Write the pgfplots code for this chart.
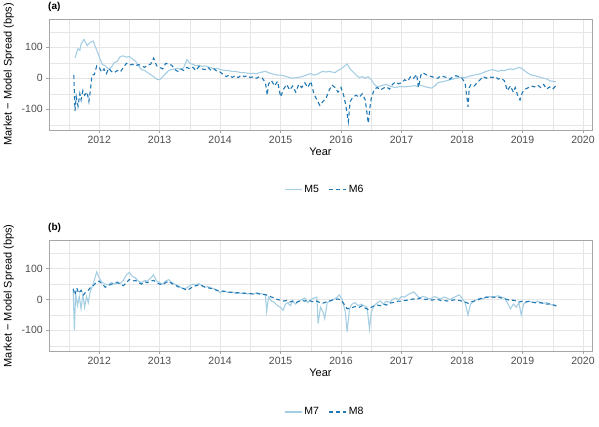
\documentclass[border=0pt]{standalone}
\usepackage{fontspec}
\setmainfont{Liberation Sans}
\usepackage{pgfplots}
\pgfplotsset{compat=1.18}
\definecolor{lightb}{HTML}{A6CEE3}
\definecolor{darkb}{HTML}{1F78B4}
\definecolor{gridc}{HTML}{E6E6E6}
\definecolor{borderc}{HTML}{A6A6A6}
\definecolor{tickc}{HTML}{4D4D4D}

\pgfplotstableread{
x y
2011.60 65
2011.63 85
2011.65 95
2011.68 90
2011.70 110
2011.75 125
2011.80 105
2011.85 115
2011.90 120
2011.95 95
2012.00 70
2012.05 45
2012.10 40
2012.15 30
2012.20 35
2012.25 50
2012.30 55
2012.35 70
2012.40 72
2012.45 68
2012.50 70
2012.55 62
2012.60 55
2012.65 40
2012.70 28
2012.75 25
2012.80 18
2012.85 12
2012.90 5
2012.95 -3
2013.00 -5
2013.05 5
2013.10 15
2013.15 25
2013.20 28
2013.25 30
2013.30 32
2013.35 28
2013.40 35
2013.45 60
2013.50 48
2013.55 45
2013.60 40
2013.65 42
2013.70 38
2013.75 40
2013.80 36
2013.85 34
2013.90 30
2013.95 32
2014.00 28
2014.05 26
2014.10 25
2014.15 24
2014.20 22
2014.25 22
2014.30 20
2014.35 18
2014.40 18
2014.45 16
2014.50 15
2014.55 16
2014.60 14
2014.65 18
2014.70 20
2014.75 22
2014.80 18
2014.85 15
2014.90 12
2014.95 10
2015.00 10
2015.05 8
2015.10 5
2015.15 2
2015.20 0
2015.25 2
2015.30 3
2015.35 5
2015.40 8
2015.45 12
2015.50 15
2015.55 10
2015.60 12
2015.65 18
2015.70 22
2015.75 20
2015.80 22
2015.85 20
2015.90 18
2015.95 25
2016.00 30
2016.05 38
2016.10 46
2016.15 30
2016.20 20
2016.25 10
2016.30 2
2016.35 5
2016.40 0
2016.45 5
2016.50 -5
2016.55 -20
2016.60 -28
2016.65 -25
2016.70 -22
2016.75 -20
2016.80 -25
2016.85 -28
2016.90 -30
2016.95 -28
2017.00 -27
2017.05 -28
2017.10 -27
2017.15 -26
2017.20 -24
2017.25 -26
2017.30 -22
2017.35 -25
2017.40 -28
2017.45 -30
2017.50 -32
2017.55 -25
2017.60 -15
2017.65 -12
2017.70 -10
2017.75 -8
2017.80 -5
2017.85 -3
2017.90 0
2017.95 2
2018.00 3
2018.05 2
2018.10 5
2018.15 8
2018.20 10
2018.25 12
2018.30 14
2018.35 18
2018.40 22
2018.45 25
2018.50 28
2018.55 25
2018.60 22
2018.65 26
2018.70 24
2018.75 28
2018.80 30
2018.85 28
2018.90 32
2018.95 35
2019.00 30
2019.05 22
2019.10 15
2019.15 10
2019.20 8
2019.25 6
2019.30 2
2019.35 0
2019.40 -2
2019.45 -8
2019.50 -10
2019.55 -12
}\mfive

\pgfplotstableread{
x y
2011.58 10
2011.60 -105
2011.62 -60
2011.65 -90
2011.68 -50
2011.70 -70
2011.73 -40
2011.76 -55
2011.80 -45
2011.83 -75
2011.86 -30
2011.88 10
2011.92 12
2011.96 40
2012.00 35
2012.04 20
2012.08 30
2012.12 15
2012.16 32
2012.20 22
2012.25 18
2012.30 25
2012.35 20
2012.40 35
2012.45 48
2012.50 42
2012.55 45
2012.60 40
2012.65 44
2012.70 40
2012.75 35
2012.80 42
2012.85 45
2012.90 65
2012.95 40
2013.00 35
2013.05 30
2013.10 48
2013.15 45
2013.20 42
2013.25 28
2013.30 22
2013.35 30
2013.40 25
2013.45 35
2013.50 30
2013.55 35
2013.60 25
2013.65 38
2013.70 30
2013.75 28
2013.80 35
2013.85 25
2013.90 30
2013.95 22
2014.00 20
2014.05 12
2014.10 5
2014.15 10
2014.20 3
2014.25 8
2014.30 2
2014.35 10
2014.40 5
2014.45 8
2014.50 2
2014.55 5
2014.60 0
2014.65 5
2014.70 0
2014.75 -15
2014.78 -55
2014.80 -18
2014.85 -8
2014.90 -25
2014.95 -10
2015.00 -60
2015.05 -35
2015.10 -20
2015.15 -38
2015.20 -25
2015.25 -45
2015.30 -20
2015.35 -30
2015.40 -15
2015.45 -30
2015.50 -10
2015.55 -50
2015.60 -70
2015.65 -88
2015.70 -75
2015.75 -65
2015.80 -40
2015.85 -22
2015.90 -30
2015.95 -45
2016.00 -30
2016.05 -60
2016.08 -90
2016.12 -140
2016.15 -75
2016.20 -60
2016.25 -55
2016.30 -62
2016.35 -50
2016.40 -70
2016.45 -145
2016.48 -90
2016.50 -65
2016.55 -35
2016.60 -30
2016.65 -38
2016.70 -32
2016.75 -28
2016.80 -35
2016.85 -20
2016.90 -12
2016.95 -18
2017.00 -15
2017.05 -5
2017.10 -10
2017.15 5
2017.20 0
2017.25 12
2017.28 -30
2017.32 10
2017.35 18
2017.40 12
2017.45 8
2017.50 5
2017.55 2
2017.60 0
2017.65 8
2017.70 5
2017.75 2
2017.80 -3
2017.85 5
2017.90 8
2017.95 5
2018.00 0
2018.05 -15
2018.08 -60
2018.10 -92
2018.12 -30
2018.15 -20
2018.20 -25
2018.25 -15
2018.30 -5
2018.35 5
2018.40 0
2018.45 5
2018.50 2
2018.55 5
2018.60 -3
2018.65 0
2018.70 -8
2018.75 -40
2018.80 -25
2018.85 -45
2018.88 -30
2018.92 -55
2018.96 -70
2019.00 -45
2019.05 -35
2019.10 -30
2019.15 -25
2019.20 -28
2019.25 -22
2019.30 -30
2019.35 -20
2019.40 -35
2019.45 -28
2019.50 -35
2019.55 -25
}\msix

\pgfplotstableread{
x y
2011.57 30
2011.59 -100
2011.61 20
2011.64 -20
2011.67 10
2011.70 -30
2011.73 15
2011.76 -25
2011.79 10
2011.82 -10
2011.85 25
2011.90 50
2011.96 90
2012.00 70
2012.05 55
2012.10 50
2012.15 48
2012.20 55
2012.25 50
2012.30 58
2012.35 52
2012.40 62
2012.45 80
2012.50 88
2012.55 75
2012.60 70
2012.65 60
2012.70 55
2012.75 62
2012.80 60
2012.85 70
2012.90 80
2012.95 60
2013.00 55
2013.05 50
2013.10 60
2013.15 65
2013.20 55
2013.25 50
2013.30 45
2013.35 40
2013.40 35
2013.45 38
2013.50 45
2013.55 50
2013.60 48
2013.65 52
2013.70 45
2013.75 40
2013.80 42
2013.85 38
2013.90 35
2013.95 30
2014.00 22
2014.05 28
2014.10 25
2014.15 22
2014.20 25
2014.25 20
2014.30 22
2014.35 20
2014.40 22
2014.45 18
2014.50 20
2014.55 18
2014.60 22
2014.65 20
2014.70 18
2014.75 15
2014.77 -38
2014.80 8
2014.85 -5
2014.90 -10
2014.95 -20
2015.00 -25
2015.04 -35
2015.08 -15
2015.12 -10
2015.16 -20
2015.20 -5
2015.25 -15
2015.30 -5
2015.35 0
2015.40 5
2015.45 -10
2015.50 0
2015.55 5
2015.60 8
2015.62 -78
2015.66 -25
2015.70 -40
2015.73 -62
2015.77 -10
2015.82 -5
2015.87 0
2015.92 5
2015.97 15
2016.02 0
2016.07 -40
2016.10 -105
2016.14 -30
2016.18 -15
2016.23 -10
2016.28 -20
2016.33 -15
2016.38 -20
2016.43 -25
2016.47 -95
2016.50 -40
2016.55 -20
2016.60 -10
2016.65 -5
2016.70 -15
2016.75 -5
2016.80 -10
2016.85 0
2016.90 5
2016.95 0
2017.00 10
2017.05 8
2017.10 15
2017.15 20
2017.20 25
2017.25 15
2017.30 5
2017.35 10
2017.40 8
2017.45 2
2017.50 5
2017.55 10
2017.60 5
2017.65 2
2017.70 8
2017.75 5
2017.80 0
2017.85 5
2017.90 10
2017.95 15
2018.00 5
2018.05 -10
2018.10 -50
2018.14 -15
2018.20 -5
2018.25 0
2018.30 5
2018.35 2
2018.40 8
2018.45 10
2018.50 8
2018.55 10
2018.60 12
2018.65 8
2018.70 5
2018.75 -10
2018.80 -30
2018.85 -15
2018.90 -25
2018.94 -10
2018.98 -50
2019.02 -15
2019.05 -10
2019.10 -5
2019.15 -8
2019.20 -10
2019.25 -5
2019.30 -10
2019.35 -12
2019.40 -10
2019.45 -15
2019.50 -18
2019.56 -22
}\mseven

\pgfplotstableread{
x y
2011.57 35
2011.60 15
2011.63 38
2011.66 20
2011.70 30
2011.74 15
2011.78 25
2011.82 30
2011.86 40
2011.90 45
2011.95 55
2012.00 60
2012.05 50
2012.10 40
2012.15 45
2012.20 50
2012.25 52
2012.30 55
2012.35 50
2012.40 45
2012.45 55
2012.50 65
2012.55 60
2012.60 62
2012.65 55
2012.70 50
2012.75 58
2012.80 55
2012.85 60
2012.90 62
2012.95 55
2013.00 50
2013.05 48
2013.10 55
2013.15 60
2013.20 52
2013.25 48
2013.30 42
2013.35 38
2013.40 35
2013.45 30
2013.50 35
2013.55 42
2013.60 45
2013.65 48
2013.70 45
2013.75 40
2013.80 38
2013.85 36
2013.90 33
2013.95 30
2014.00 28
2014.05 27
2014.10 26
2014.15 24
2014.20 23
2014.25 22
2014.30 22
2014.35 21
2014.40 20
2014.45 20
2014.50 19
2014.55 18
2014.60 20
2014.65 18
2014.70 17
2014.75 16
2014.80 12
2014.85 8
2014.90 5
2014.95 0
2015.00 -2
2015.05 -5
2015.10 -3
2015.15 -8
2015.20 -5
2015.25 -10
2015.30 -6
2015.35 -3
2015.40 -5
2015.45 -2
2015.50 -5
2015.55 -8
2015.60 -5
2015.65 -10
2015.70 -12
2015.75 -8
2015.80 -5
2015.85 -2
2015.90 0
2015.95 2
2016.00 -2
2016.05 -15
2016.10 -30
2016.15 -28
2016.20 -25
2016.25 -22
2016.30 -25
2016.35 -20
2016.40 -28
2016.45 -32
2016.50 -25
2016.55 -20
2016.60 -18
2016.65 -20
2016.70 -15
2016.75 -18
2016.80 -12
2016.85 -10
2016.90 -8
2016.95 -5
2017.00 -5
2017.05 -3
2017.10 -2
2017.15 0
2017.20 2
2017.25 0
2017.30 5
2017.35 3
2017.40 0
2017.45 2
2017.50 -2
2017.55 0
2017.60 0
2017.65 -3
2017.70 -2
2017.75 -5
2017.80 -3
2017.85 -2
2017.90 0
2017.95 -3
2018.00 -5
2018.05 -8
2018.10 -12
2018.15 -8
2018.20 -5
2018.25 -2
2018.30 2
2018.35 5
2018.40 8
2018.45 6
2018.50 8
2018.55 7
2018.60 8
2018.65 5
2018.70 3
2018.75 0
2018.80 -3
2018.85 -2
2018.90 -5
2018.95 -8
2019.00 -5
2019.05 -8
2019.10 -6
2019.15 -8
2019.20 -10
2019.25 -12
2019.30 -10
2019.35 -13
2019.40 -15
2019.45 -14
2019.50 -17
2019.56 -20
}\meight

\pgfplotsset{
  panel/.style={
    scale only axis, width=543pt,
    xmin=2011.17, xmax=2020.15, ymin=-167, ymax=191,
    axis line style={draw=borderc, line width=0.8pt},
    xtick={2012,2013,2014,2015,2016,2017,2018,2019,2020},
    xticklabels={2012,2013,2014,2015,2016,2017,2018,2019,2020},
    minor xtick={2011.5,2012.5,2013.5,2014.5,2015.5,2016.5,2017.5,2018.5,2019.5},
    ytick={-100,0,100},
    yticklabels={-100,0,100},
    minor ytick={-150,-50,50,150},
    grid=both,
    major grid style={draw=gridc, line width=0.6pt},
    minor grid style={draw=gridc, line width=0.35pt},
    tick align=outside, xtick pos=bottom, ytick pos=left,
    major tick length=2.75pt, minor tick length=0pt,
    tick style={draw=borderc, line width=0.6pt},
    ticklabel style={font=\fontsize{10.5}{12}\selectfont, text=tickc},
    xlabel={Year},
    ylabel={Market − Model Spread (bps)},
    label style={font=\fontsize{11}{13}\selectfont},
    xlabel style={at={(axis description cs:0.5,-0.198)}, anchor=center},
    ylabel style={at={(axis description cs:-0.074,0.5)}, anchor=center},
    legend columns=2,
    legend style={draw=none, fill=none, anchor=center,
      font=\fontsize{10.5}{12}\selectfont,
      /tikz/every even column/.append style={column sep=8pt}},
    legend image code/.code={\draw[##1] (0pt,0pt) -- (17pt,0pt);},
  },
  light/.style={draw=lightb, line width=1.1pt, solid},
  dark/.style={draw=darkb, line width=1.1pt, dash pattern=on 4pt off 3pt},
}

\begin{document}
\begin{tikzpicture}
\path[use as bounding box] (0,0) rectangle (599pt,427pt);

\begin{axis}[panel, height=111pt, at={(49pt,297pt)}, anchor=south west,
  legend style={at={(axis description cs:0.508,-0.54)}}]
\addplot[light] table {\mfive};
\addplot[dark] table {\msix};
\legend{M5,M6}
\end{axis}
\node[anchor=west, inner sep=0pt, font=\bfseries\fontsize{10}{12}\selectfont] at (48pt,420pt) {(a)};

\begin{axis}[panel, height=110.3pt, at={(49pt,76pt)}, anchor=south west,
  legend style={at={(axis description cs:0.508,-0.553)}}]
\addplot[light] table {\mseven};
\addplot[dark] table {\meight};
\legend{M7,M8}
\end{axis}
\node[anchor=west, inner sep=0pt, font=\bfseries\fontsize{10}{12}\selectfont] at (48pt,199pt) {(b)};
\end{tikzpicture}
\end{document}
